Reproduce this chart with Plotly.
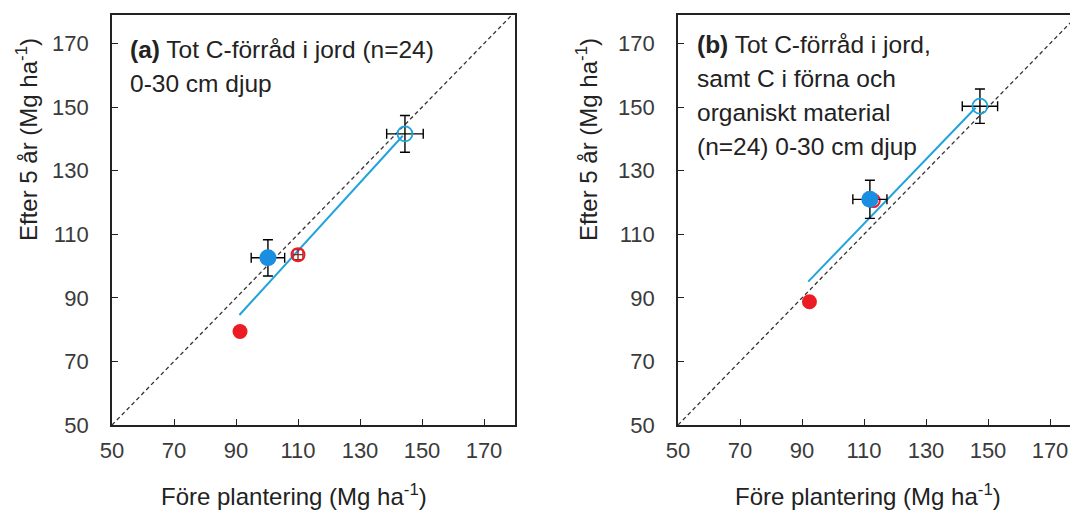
import plotly.graph_objects as go

# ---- data (Mg ha-1) ----
ticks = [50, 70, 90, 110, 130, 150, 170]
tick_labels = ["50", "70", "90", "110", "130", "150", "170"]

# panel a
a_blue_x, a_blue_y, a_blue_ex, a_blue_ey = [100.3], [102.6], [5.4], [5.7]
a_redopen_x, a_redopen_y, a_redopen_ex, a_redopen_ey = [110.0], [103.6], [1.6], [1.6]
a_red_x, a_red_y = [91.3], [79.4]
a_open_x, a_open_y, a_open_ex, a_open_ey = [144.5], [141.6], [5.9], [5.8]
a_line_x, a_line_y = [91.1, 143.8], [84.6, 141.0]

# panel b
b_blue_x, b_blue_y, b_blue_ex, b_blue_ey = [111.9], [121.0], [5.5], [6.0]
b_redopen_x, b_redopen_y = [113.0], [120.6]
b_red_x, b_red_y = [92.4], [88.8]
b_open_x, b_open_y, b_open_ex, b_open_ey = [147.4], [150.3], [5.7], [5.4]
b_line_x, b_line_y = [92.0, 146.0], [95.1, 149.8]

one_to_one = [50, 180]

a_text_lines = ["<b>(a)</b> Tot C-förråd i jord (n=24)", "0-30 cm djup"]
b_text_lines = ["<b>(b)</b> Tot C-förråd i jord,", "samt C i förna och",
                "organiskt material", "(n=24) 0-30 cm djup"]
x_title = "Före plantering (Mg ha<sup>-1</sup>)"
y_title = "Efter 5 år (Mg ha<sup>-1</sup>)"

FONT = "Liberation Sans, Arial, sans-serif"
BLUE = "#1a8ee0"
LINEBLUE = "#21a3dc"
RED = "#ec1c24"

W, H = 1070, 513
ML, MR, MT, MB = 112, 0, 15, 88
PW, PH = W - ML - MR, H - MT - MB


def px(x):
    return (x - ML) / PW


def py(y):
    return (H - MB - y) / PH


fig = go.Figure()


def err(arr, color="black"):
    return dict(type="data", array=arr, visible=True, color=color, thickness=1.4, width=5)


def add_panel(xa, ya, line_x, line_y, open_x, open_y, open_ex, open_ey,
              blue_x, blue_y, blue_ex, blue_ey, red_x, red_y,
              ro_x, ro_y, ro_ex=None, ro_ey=None):
    fig.add_trace(go.Scatter(x=one_to_one, y=one_to_one, mode="lines",
                             line=dict(color="#333333", width=1.3, dash="4px,3px"),
                             xaxis=xa, yaxis=ya, showlegend=False, hoverinfo="skip"))
    fig.add_trace(go.Scatter(x=line_x, y=line_y, mode="lines",
                             line=dict(color=LINEBLUE, width=2),
                             xaxis=xa, yaxis=ya, showlegend=False))
    fig.add_trace(go.Scatter(x=red_x, y=red_y, mode="markers",
                             marker=dict(color=RED, size=15, line=dict(width=0)),
                             xaxis=xa, yaxis=ya, showlegend=False))
    ro = dict(x=ro_x, y=ro_y, mode="markers",
              marker=dict(symbol="circle-open", color=RED, size=13, line=dict(width=2, color=RED)),
              xaxis=xa, yaxis=ya, showlegend=False)
    if ro_ex is not None:
        ro["error_x"] = err(ro_ex, "#8a2a2a")
        ro["error_y"] = err(ro_ey, "#8a2a2a")
    fig.add_trace(go.Scatter(**ro))
    fig.add_trace(go.Scatter(x=blue_x, y=blue_y, mode="markers",
                             marker=dict(color=BLUE, size=17, line=dict(width=0)),
                             error_x=err(blue_ex), error_y=err(blue_ey),
                             xaxis=xa, yaxis=ya, showlegend=False))
    fig.add_trace(go.Scatter(x=open_x, y=open_y, mode="markers",
                             marker=dict(symbol="circle-open", color=LINEBLUE, size=15,
                                         line=dict(width=1.8, color=LINEBLUE)),
                             error_x=err(open_ex), error_y=err(open_ey),
                             xaxis=xa, yaxis=ya, showlegend=False))


add_panel("x", "y", a_line_x, a_line_y, a_open_x, a_open_y, a_open_ex, a_open_ey,
          a_blue_x, a_blue_y, a_blue_ex, a_blue_ey, a_red_x, a_red_y,
          a_redopen_x, a_redopen_y, a_redopen_ex, a_redopen_ey)
add_panel("x2", "y2", b_line_x, b_line_y, b_open_x, b_open_y, b_open_ex, b_open_ey,
          b_blue_x, b_blue_y, b_blue_ex, b_blue_ey, b_red_x, b_red_y,
          b_redopen_x, b_redopen_y)

axis_common = dict(
    showgrid=False, zeroline=False, showline=True, linecolor="#222222", linewidth=1.6,
    ticks="inside", ticklen=6, tickwidth=1.4, tickcolor="#222222",
    tickvals=ticks, ticktext=tick_labels,
    tickfont=dict(family=FONT, size=22, color="#3a3a3a"),
)

a_right = 515
b_left = 678
xr_b = 50 + (W - b_left) / 3.1

fig.update_layout(
    width=W, height=H,
    margin=dict(l=ML, r=MR, t=MT, b=MB),
    paper_bgcolor="white", plot_bgcolor="white",
    xaxis=dict(axis_common, domain=[0, px(a_right)], range=[50, 180], mirror=True,
               anchor="y", ticklabelstandoff=5),
    yaxis=dict(axis_common, domain=[0, 1], range=[50, 179], mirror=True,
               anchor="x", ticklabelstandoff=17),
    xaxis2=dict(axis_common, domain=[px(b_left), 1], range=[50, xr_b], mirror=True,
                anchor="y2", ticklabelstandoff=5),
    yaxis2=dict(axis_common, domain=[0, 1], range=[50, 179], mirror=False,
                anchor="x2", ticklabelstandoff=17),
)

ann_font = dict(family=FONT, size=24.5, color="#222222")
title_font = dict(family=FONT, size=24, color="#222222")

annotations = [
    dict(x=px(294), y=py(495), text=x_title, font=title_font,
         xanchor="center", yanchor="middle"),
    dict(x=px(868), y=py(495), text=x_title, font=title_font,
         xanchor="center", yanchor="middle"),
    dict(x=px(27), y=py(140), text=y_title, font=title_font,
         textangle=-90, xanchor="center", yanchor="middle"),
    dict(x=px(587), y=py(140), text=y_title, font=title_font,
         textangle=-90, xanchor="center", yanchor="middle"),
]
for i, line in enumerate(a_text_lines):
    annotations.append(dict(x=px(128), y=py(50 + 33 * i), text=line, font=ann_font,
                            xanchor="left", yanchor="middle", align="left"))
for i, line in enumerate(b_text_lines):
    annotations.append(dict(x=px(695), y=py(45 + 33.7 * i), text=line, font=ann_font,
                            xanchor="left", yanchor="middle", align="left"))
for a in annotations:
    a["xref"] = "paper"
    a["yref"] = "paper"
    a["showarrow"] = False
fig.update_layout(annotations=annotations)

fig.write_html("out.html")
